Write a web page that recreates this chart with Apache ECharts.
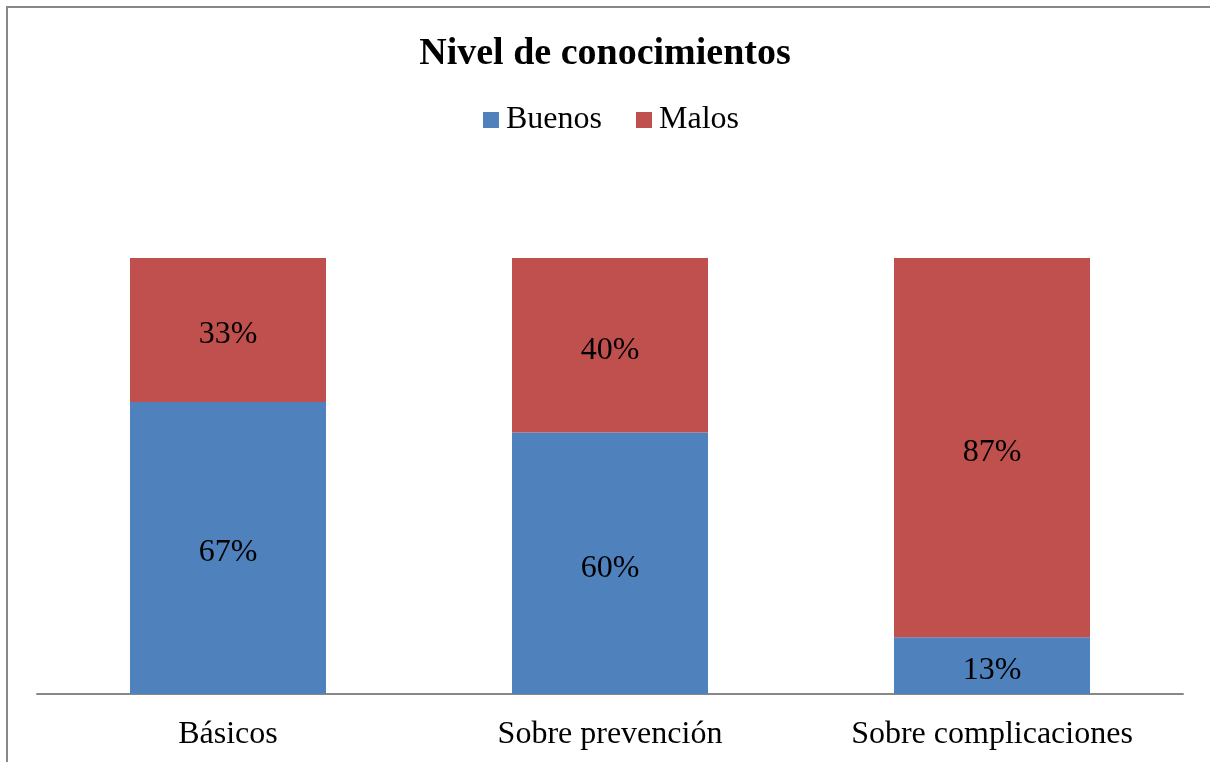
<!DOCTYPE html>
<html>
<head>
<meta charset="utf-8">
<script src="https://cdn.jsdelivr.net/npm/echarts@6/dist/echarts.min.js"></script>
<style>
  html, body { margin: 0; padding: 0; background: #fff; }
  #main { width: 1210px; height: 762px; }
</style>
</head>
<body>
<div id="main"></div>
<script>
var categories = ['Básicos', 'Sobre prevención', 'Sobre complicaciones'];
var buenos = [67, 60, 13];
var malos = [33, 40, 87];

var serif = '"Liberation Serif", "Times New Roman", serif';

var chart = echarts.init(document.getElementById('main'));
chart.setOption({
    animation: false,
    title: {
        text: 'Nivel de conocimientos',
        left: 'center',
        top: 30,
        textStyle: { fontFamily: serif, fontSize: 38, fontWeight: 'bold', color: '#000' }
    },
    legend: {
        top: 99,
        left: 478,
        itemWidth: 16,
        itemHeight: 16,
        itemGap: 34,
        icon: 'rect',
        textStyle: { fontFamily: serif, fontSize: 32, color: '#000', padding: [0, 0, 0, 2] },
        data: ['Buenos', 'Malos']
    },
    grid: { left: 37, right: 27, top: 258, bottom: 68, containLabel: false },
    xAxis: {
        type: 'category',
        data: categories,
        axisLine: { lineStyle: { color: '#888', width: 2 } },
        axisTick: { show: false },
        axisLabel: { fontFamily: serif, fontSize: 32, color: '#000', margin: 25 }
    },
    yAxis: {
        type: 'value',
        min: 0,
        max: 100,
        show: false,
        splitLine: { show: false }
    },
    series: [
        {
            name: 'Buenos',
            type: 'bar',
            stack: 'total',
            barWidth: 196,
            data: buenos,
            itemStyle: { color: '#4F81BD' },
            label: { show: true, position: 'inside', offset: [0, 5], formatter: '{c}%', fontFamily: serif, fontSize: 32, color: '#000' }
        },
        {
            name: 'Malos',
            type: 'bar',
            stack: 'total',
            barWidth: 196,
            data: malos,
            itemStyle: { color: '#C0504D' },
            label: { show: true, position: 'inside', offset: [0, 5], formatter: '{c}%', fontFamily: serif, fontSize: 32, color: '#000' }
        }
    ],
    graphic: [{
        type: 'rect',
        shape: { x: 7, y: 7, width: 1220, height: 780 },
        style: { fill: 'none', stroke: '#888', lineWidth: 2 },
        silent: true
    }]
});
</script>
</body>
</html>
